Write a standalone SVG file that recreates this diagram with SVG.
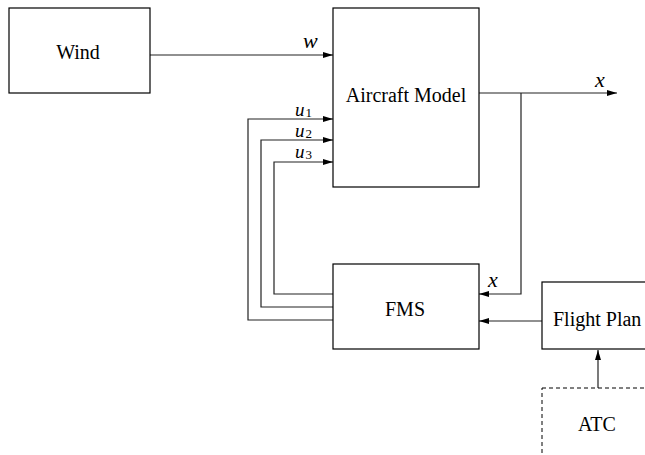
<svg xmlns="http://www.w3.org/2000/svg" width="645" height="455" viewBox="0 0 645 455">
<defs>
<marker id="ah" viewBox="0 0 10 6" refX="10" refY="3" markerWidth="10" markerHeight="6" markerUnits="userSpaceOnUse" orient="auto">
<path d="M0,0 L10,3 L0,6 z" fill="#000"/>
</marker>
<style>
.box{fill:#fff;stroke:#000;stroke-width:1.2}
.dash{fill:none;stroke:#000;stroke-width:1;stroke-dasharray:4,3}
.lbl{font-family:"Liberation Serif",serif;font-size:20px;fill:#000}
.math{font-family:"Liberation Serif",serif;font-style:italic;font-size:22px;fill:#000}
.mu{font-family:"Liberation Serif",serif;font-style:italic;font-size:19px;fill:#000}
.sub{font-style:normal;font-size:13px}
.wire{fill:none;stroke:#222;stroke-width:1.2}
</style>
</defs>
<rect width="645" height="455" fill="#fff"/>
<g id="connectors">
<path class="wire" d="M150,55 H333" marker-end="url(#ah)"/>
<path class="wire" d="M333,320 H248 V119 H333" marker-end="url(#ah)"/>
<path class="wire" d="M333,307 H261 V140 H333" marker-end="url(#ah)"/>
<path class="wire" d="M333,294 H274 V162 H333" marker-end="url(#ah)"/>
<path class="wire" d="M479,93 H617" marker-end="url(#ah)"/>
<path class="wire" d="M521,93 V294 H479" marker-end="url(#ah)"/>
<path class="wire" d="M542,321 H479" marker-end="url(#ah)"/>
<path class="wire" d="M598,388 V350" marker-end="url(#ah)"/>
<text class="math" x="303" y="48">w</text>
<text class="mu" x="295" y="116">u<tspan class="sub" dx="1" dy="1">1</tspan></text>
<text class="mu" x="295" y="137">u<tspan class="sub" dx="1" dy="1">2</tspan></text>
<text class="mu" x="295" y="158">u<tspan class="sub" dx="1" dy="1">3</tspan></text>
<text class="math" x="595" y="87">x</text>
<text class="math" x="488" y="287">x</text>
</g>
<g id="wind">
<rect class="box" x="9" y="8" width="141" height="85"/>
<text class="lbl" x="78" y="59" text-anchor="middle">Wind</text>
</g>
<g id="aircraft">
<rect class="box" x="333" y="8" width="146" height="179"/>
<text class="lbl" x="406" y="102" text-anchor="middle">Aircraft Model</text>
</g>
<g id="fms">
<rect class="box" x="333" y="264" width="146" height="85"/>
<text class="lbl" x="405" y="316" text-anchor="middle">FMS</text>
</g>
<g id="flightplan">
<rect class="box" x="542" y="282" width="110" height="67"/>
<text class="lbl" x="553" y="326">Flight Plan</text>
</g>
<g id="atc">
<rect class="dash" x="542" y="388" width="110" height="80"/>
<text class="lbl" x="597" y="431" text-anchor="middle">ATC</text>
</g>
</svg>
